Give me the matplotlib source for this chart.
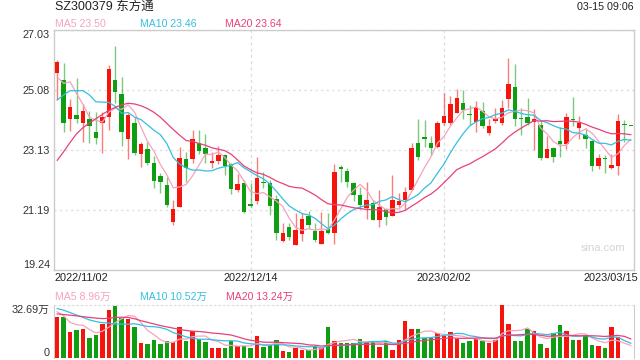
import numpy as np
import pandas as pd
import matplotlib
matplotlib.use("Agg")
import matplotlib.pyplot as plt
import matplotlib.transforms as mtransforms

# daily OHLC, 2022/11/02 .. 2023/03/15
opens = [25.62, 25.41, 24.15, 24.26, 24.00, 24.13, 23.71, 24.02, 24.22, 25.41,
         24.95, 23.50, 24.00, 23.02, 23.17, 22.72, 22.29, 22.00, 20.81, 21.29,
         22.83, 22.83, 23.37, 23.19, 22.72, 22.79, 22.97, 22.68, 21.83, 22.07,
         21.38, 21.49, 22.07, 22.07, 21.53, 20.19, 20.62, 20.05, 20.41, 20.99,
         20.52, 20.10, 20.56, 20.43, 22.57, 22.45, 22.08, 21.67, 21.24, 21.43,
         20.86, 21.21, 21.00, 21.35, 21.51, 21.83, 23.35, 23.55, 23.35, 23.24,
         24.00, 24.02, 24.35, 24.65, 24.29, 24.05, 24.40, 23.70, 24.09, 24.02,
         24.78, 25.19, 24.15, 24.19, 24.03, 23.94, 22.88, 23.20, 23.43, 23.33,
         24.14, 23.84, 23.62, 23.43, 22.62, 22.85, 22.54, 22.62, 23.97, 23.92]
highs = [26.06, 25.95, 24.78, 25.47, 24.62, 24.39, 24.37, 24.38, 25.88, 26.51,
         25.49, 24.32, 24.19, 23.38, 23.38, 22.95, 22.40, 22.27, 21.51, 23.24,
         23.08, 23.78, 23.80, 23.64, 23.08, 23.26, 23.02, 22.72, 22.35, 22.16,
         22.05, 22.92, 22.43, 22.16, 21.67, 20.77, 20.77, 21.10, 21.08, 21.16,
         20.77, 21.13, 21.08, 22.68, 22.65, 22.54, 22.10, 21.94, 22.11, 21.51,
         21.83, 21.24, 22.32, 21.73, 21.94, 23.35, 24.13, 24.11, 23.59, 24.09,
         24.97, 24.89, 25.10, 25.08, 24.59, 24.72, 24.70, 24.13, 24.49, 24.76,
         26.11, 25.92, 24.49, 24.81, 24.46, 24.11, 23.59, 23.22, 23.87, 24.35,
         24.84, 24.24, 23.84, 23.46, 23.02, 22.97, 23.00, 24.29, 24.11, 23.93]
lows = [24.76, 23.73, 23.76, 24.02, 23.40, 23.35, 23.32, 23.05, 23.80, 24.65,
        23.26, 22.83, 22.97, 22.59, 22.65, 21.89, 21.75, 21.29, 20.70, 21.29,
        22.11, 22.72, 22.99, 22.72, 22.54, 22.68, 22.32, 21.71, 21.78, 21.08,
        21.29, 21.38, 21.89, 21.02, 20.21, 20.16, 20.21, 20.05, 20.19, 20.59,
        20.16, 20.08, 20.41, 20.10, 22.10, 21.94, 21.48, 21.21, 20.91, 20.86,
        20.62, 20.70, 21.00, 21.29, 21.21, 21.83, 22.81, 23.24, 22.97, 23.19,
        23.95, 23.95, 24.32, 24.13, 23.95, 23.73, 23.84, 23.62, 24.00, 23.95,
        24.49, 23.91, 23.62, 23.95, 23.13, 22.81, 22.86, 22.75, 22.92, 23.16,
        23.91, 23.48, 23.19, 22.46, 22.51, 22.40, 22.51, 22.32, 23.40, 23.90]
closes = [25.99, 24.02, 24.52, 24.15, 24.40, 23.90, 23.53, 24.22, 25.76, 25.03,
          23.73, 24.26, 23.05, 23.32, 22.72, 22.14, 22.11, 21.36, 21.21, 22.86,
          22.54, 23.50, 23.11, 23.00, 22.78, 22.97, 22.61, 21.86, 22.03, 21.13,
          21.32, 22.24, 22.05, 21.33, 20.45, 20.45, 20.32, 20.54, 20.88, 20.70,
          20.21, 20.52, 20.43, 22.42, 22.52, 22.10, 21.69, 21.35, 21.51, 20.86,
          21.29, 20.97, 21.51, 21.47, 21.77, 23.21, 22.92, 23.48, 23.19, 24.00,
          24.24, 24.63, 24.81, 24.43, 24.26, 24.54, 23.91, 23.91, 24.11, 24.49,
          25.28, 24.15, 24.13, 24.00, 24.13, 22.86, 23.17, 22.90, 23.33, 24.19,
          24.11, 24.00, 23.48, 22.62, 22.89, 22.83, 22.65, 24.07, 23.95, 23.91]
# volume in 万手
volumes = [25.1, 25.1, 15.9, 17.0, 17.6, 12.4, 14.4, 21.1, 29.4, 31.8,
           24.4, 24.2, 19.0, 9.2, 8.7, 11.1, 8.7, 10.2, 9.6, 19.0,
           10.5, 16.8, 11.6, 9.8, 6.3, 6.3, 5.9, 10.5, 7.6, 7.2,
           5.9, 13.7, 6.5, 8.1, 11.1, 4.6, 3.9, 5.9, 4.8, 4.8,
           7.2, 5.9, 19.0, 10.5, 9.4, 9.4, 9.4, 11.6, 9.8, 9.8,
           6.5, 10.2, 5.2, 11.1, 22.9, 17.6, 18.1, 12.6, 12.2, 15.7,
           13.7, 15.9, 12.0, 9.4, 10.2, 12.0, 10.2, 9.2, 10.9, 32.69,
           20.9, 10.7, 10.5, 18.1, 16.8, 8.5, 5.9, 15.3, 20.3, 16.8,
           11.3, 11.3, 14.4, 8.1, 7.2, 6.1, 19.0, 13.1, 0.3, 0.3]

# moving-average values before enough bars exist
ma5_head = [25.50, 25.30, 25.35, 24.97]
ma10_head = [24.76, 24.92, 25.06, 25.06, 25.06, 24.92, 24.70, 24.69, 24.68]
ma20_head = [22.80, 23.08, 23.38, 23.66, 23.86, 24.01, 24.15, 24.29, 24.42, 24.52,
             24.60, 24.65, 24.63, 24.57, 24.48, 24.36, 24.20, 24.00, 23.80]
vma5_head = [28.5, 26.0, 22.0, 20.5]
vma10_head = [30.5, 29.5, 28.0, 26.5, 25.0, 23.5, 22.5, 21.8, 21.5]
vma20_head = [27.2, 26.8, 26.4, 26.0, 25.5, 25.0, 24.6, 24.3, 24.5, 25.0,
              25.2, 25.0, 24.2, 23.0, 22.0, 21.0, 20.0, 19.2, 18.4]

price_ticks = [19.24, 21.19, 23.13, 25.08, 27.03]
date_labels = ["2022/11/02", "2022/12/14", "2023/02/02", "2023/03/15"]
date_pos = [0, 30, 60, 89]

RED = "#f5150c"
GREEN = "#0f9d12"
C5 = "#f7a3be"
C10 = "#34bfe0"
C20 = "#e8417a"
EDGE = "#cccccc"
GRID = "#dddddd"


def moving(values, n, head):
    m = pd.Series(values).rolling(n).mean().to_numpy()
    m[:n - 1] = head
    return m


plt.rcParams["font.family"] = ["Liberation Sans", "Noto Sans CJK SC"]

x = np.arange(len(closes))
o = np.array(opens)
c = np.array(closes)
up = c >= o
colors = np.where(up, RED, GREEN)

fig = plt.figure(figsize=(6.4, 3.6), dpi=100)
ax = fig.add_axes([54 / 640, 90 / 360, 580 / 640, 240 / 360])
axv = fig.add_axes([54 / 640, 2 / 360, 580 / 640, 53 / 360])

# --- price panel ---
ax.vlines(x, lows, highs, colors=colors, linewidth=1, alpha=0.55, zorder=2)
body_lo = np.minimum(o, c)
body_h = np.maximum(np.abs(c - o), 0.035)
ax.bar(x, body_h, bottom=body_lo, width=0.7, color=colors, linewidth=0, zorder=3)

ax.plot(x, moving(closes, 5, ma5_head), color=C5, lw=0.9, zorder=4)
ax.plot(x, moving(closes, 10, ma10_head), color=C10, lw=0.9, zorder=4)
ax.plot(x, moving(closes, 20, ma20_head), color=C20, lw=0.9, zorder=4)

ax.set_xlim(-0.5, len(closes) - 0.5)
ax.set_ylim(price_ticks[0], price_ticks[-1])
ax.set_yticks(price_ticks)
ax.set_yticklabels([f"{t:.2f}" for t in price_ticks], fontsize=7.8, color="#333333")
labs = ax.get_yticklabels()
labs[0].set_va("bottom")
labs[-1].set_va("top")
ax.tick_params(axis="y", length=0, pad=3)
ax.set_xticks([])
ax.grid(axis="y", color=GRID, linestyle=(0, (1.5, 2.5)), linewidth=1)
for p in date_pos[1:3]:
    ax.axvline(p, color=GRID, linestyle=(0, (2.5, 2.5)), linewidth=0.9, zorder=1)
for s in ax.spines.values():
    s.set_color(EDGE)
    s.set_linewidth(1)

tr = mtransforms.blended_transform_factory(ax.transData, ax.transAxes)
aligns = ["left", "center", "center", "right"]
for lab, p, ha in zip(date_labels, date_pos, aligns):
    xx = p
    if ha == "left":
        xx = -0.45
    if ha == "right":
        xx = p + 1.1
    ax.text(xx, -0.034, lab, transform=tr, ha=ha, va="center", fontsize=7.9, color="#222222")

ax.text(0.985, 0.09, "sina.com", transform=ax.transAxes, ha="right", va="center",
        fontsize=8, color="#d4d4d4")

# --- header ---
fig.text(55 / 640, 1 - 7 / 360, "SZ300379 东方通", ha="left", va="center", fontsize=9, color="#222222")
fig.text(634 / 640, 1 - 7 / 360, "03-15 09:06", ha="right", va="center", fontsize=7.7, color="#222222")
fig.text(55 / 640, 1 - 24 / 360, "MA5 23.50", ha="left", va="center", fontsize=7.6, color=C5)
fig.text(140 / 640, 1 - 24 / 360, "MA10 23.46", ha="left", va="center", fontsize=7.6, color=C10)
fig.text(225 / 640, 1 - 24 / 360, "MA20 23.64", ha="left", va="center", fontsize=7.6, color=C20)

# --- volume panel ---
axv.bar(x, volumes, width=0.7, color=colors, linewidth=0, zorder=3)
axv.plot(x, moving(volumes, 5, vma5_head), color=C5, lw=0.9, zorder=4)
axv.plot(x, moving(volumes, 10, vma10_head), color=C10, lw=0.9, zorder=4)
axv.plot(x, moving(volumes, 20, vma20_head), color=C20, lw=0.9, zorder=4)
vmax = max(volumes)
axv.set_xlim(-0.5, len(closes) - 0.5)
axv.set_ylim(0, vmax)
axv.set_yticks([0, vmax])
axv.set_yticklabels(["0", f"{vmax:.2f}万"], fontsize=7.8, color="#333333")
vl = axv.get_yticklabels()
vl[0].set_va("bottom")
vl[1].set_va("top")
axv.tick_params(axis="y", length=0, pad=3)
axv.set_xticks([])
for p in date_pos[1:3]:
    axv.axvline(p, color=GRID, linestyle=(0, (2.5, 2.5)), linewidth=0.9, zorder=1)
axv.spines["top"].set_color(GRID)
axv.spines["top"].set_linestyle((0, (1.5, 2.5)))
axv.spines["left"].set_color(EDGE)
axv.spines["right"].set_color(EDGE)
axv.spines["bottom"].set_visible(False)

fig.text(55 / 640, 1 - 297 / 360, "MA5 8.96万", ha="left", va="center", fontsize=7.6, color=C5)
fig.text(140 / 640, 1 - 297 / 360, "MA10 10.52万", ha="left", va="center", fontsize=7.6, color=C10)
fig.text(226 / 640, 1 - 297 / 360, "MA20 13.24万", ha="left", va="center", fontsize=7.6, color=C20)

fig.savefig("out.png", dpi=100)
